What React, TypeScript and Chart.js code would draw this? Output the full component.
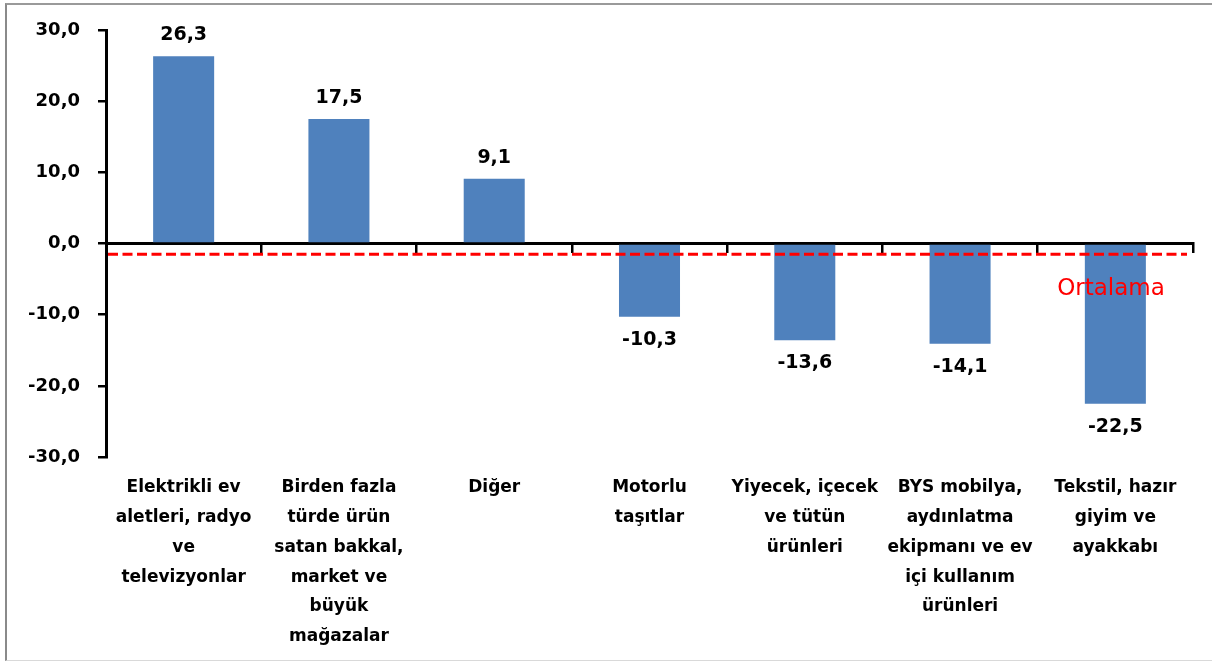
import React, { useEffect, useRef } from "react";
import { Chart, registerables } from "chart.js";

Chart.register(...registerables);

const categories: string[][] = [
  ["Elektrikli ev", "aletleri, radyo", "ve", "televizyonlar"],
  ["Birden fazla", "türde ürün", "satan bakkal,", "market ve", "büyük", "mağazalar"],
  ["Diğer"],
  ["Motorlu", "taşıtlar"],
  ["Yiyecek, içecek", "ve tütün", "ürünleri"],
  ["BYS mobilya,", "aydınlatma", "ekipmanı ve ev", "içi kullanım", "ürünleri"],
  ["Tekstil, hazır", "giyim ve", "ayakkabı"],
];

const values: number[] = [26.3, 17.5, 9.1, -10.3, -13.6, -14.1, -22.5];

const averageValue = -1.5;
const averageLabel = "Ortalama";

const yMin = -30;
const yMax = 30;
const yStep = 10;

const FONT = "'DejaVu Sans', sans-serif";
const fmt = (v: number) => v.toFixed(1).replace(".", ",");

const overlayPlugin = {
  id: "overlay",
  afterDatasetsDraw(chart: any) {
    const ctx = chart.ctx;
    const { chartArea, scales } = chart;
    // average dashed line
    const yAvg = scales.y.getPixelForValue(averageValue);
    ctx.save();
    ctx.strokeStyle = "#FF0000";
    ctx.lineWidth = 3;
    ctx.setLineDash([10, 4.5]);
    ctx.beginPath();
    ctx.moveTo(chartArea.left + 2, yAvg);
    ctx.lineTo(chartArea.right - 6, yAvg);
    ctx.stroke();
    ctx.setLineDash([]);
    ctx.fillStyle = "#FF0000";
    ctx.font = `23px ${FONT}`;
    ctx.textAlign = "center";
    ctx.textBaseline = "middle";
    ctx.fillText(averageLabel, chartArea.right - 82, yAvg + 35);
    // data labels
    const meta = chart.getDatasetMeta(0);
    ctx.fillStyle = "#000000";
    ctx.font = `bold 19px ${FONT}`;
    meta.data.forEach((bar: any, i: number) => {
      const v = values[i];
      const y = v >= 0 ? bar.y - 21 : bar.y + 23;
      ctx.fillText(fmt(v), bar.x, y);
    });
    ctx.restore();
  },
};

export default function App() {
  const ref = useRef<HTMLCanvasElement | null>(null);

  useEffect(() => {
    if (!ref.current) return;
    const chart = new Chart(ref.current, {
      type: "bar",
      data: {
        labels: categories as any,
        datasets: [
          {
            data: values,
            backgroundColor: "#4F81BD",
            borderWidth: 0,
            xAxisID: "x",
            yAxisID: "y",
            barPercentage: 0.393,
            categoryPercentage: 1,
          },
        ],
      },
      options: {
        animation: false,
        responsive: false,
        devicePixelRatio: 1,
        layout: { padding: { left: 0, right: 19, top: 30, bottom: 0 } },
        plugins: {
          legend: { display: false },
          tooltip: { enabled: false },
        },
        scales: {
          x: {
            type: "category",
            position: { y: 0 } as any,
            offset: true,
            grid: {
              offset: true,
              drawOnChartArea: false,
              drawTicks: true,
              tickLength: 8,
              color: "#000000",
              lineWidth: 2.5,
            },
            border: { display: true, color: "#000000", width: 3 },
            ticks: { display: false },
          },
          x2: {
            type: "category",
            position: "bottom",
            offset: true,
            grid: { display: false, drawTicks: false },
            border: { display: false },
            ticks: {
              autoSkip: false,
              maxRotation: 0,
              minRotation: 0,
              padding: 16,
              color: "#000000",
              font: { family: FONT, size: 17, weight: "bold", lineHeight: 1.75 },
            },
            afterFit: (scale: any) => {
              scale.height = 204;
            },
          },
          y: {
            type: "linear",
            min: yMin,
            max: yMax,
            ticks: {
              stepSize: yStep,
              padding: 18,
              color: "#000000",
              font: { family: FONT, size: 18, weight: "bold" },
              callback: (v: any) => fmt(Number(v)),
            },
            grid: {
              drawOnChartArea: false,
              drawTicks: true,
              tickLength: 8,
              color: "#000000",
              lineWidth: 2.5,
            },
            border: { display: true, color: "#000000", width: 3 },
            afterFit: (scale: any) => {
              scale.width = 106;
            },
          },
        },
      } as any,
      plugins: [overlayPlugin],
    });
    return () => chart.destroy();
  }, []);

  return (
    <div
      style={{
        position: "fixed",
        left: 0,
        top: 0,
        width: 1212,
        height: 661,
        background: "#ffffff",
        overflow: "hidden",
      }}
    >
      <div
        style={{
          position: "absolute",
          left: 5,
          top: 3,
          width: 1300,
          height: 658,
          boxSizing: "border-box",
          borderLeft: "2px solid #8a8a8a",
          borderTop: "2px solid #9a9a9a",
          borderBottom: "1px solid #d9d9d9",
        }}
      />
      <canvas
        ref={ref}
        width={1212}
        height={661}
        style={{ position: "absolute", left: 0, top: 0, width: 1212, height: 661 }}
      />
    </div>
  );
}
